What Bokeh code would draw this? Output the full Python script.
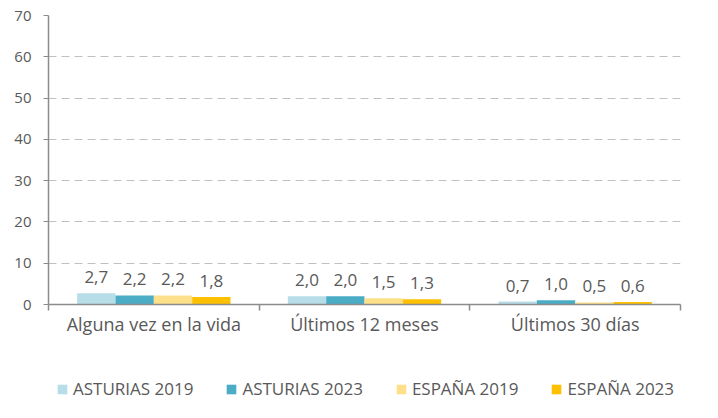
from bokeh.plotting import figure
from bokeh.models import ColumnDataSource, FixedTicker, Legend, LegendItem, Range1d
from bokeh.layouts import column
from bokeh.core.properties import value
from bokeh.embed import file_html
from bokeh.resources import INLINE

categories = ["Alguna vez en la vida", "Últimos 12 meses", "Últimos 30 días"]
series_names = ["ASTURIAS 2019", "ASTURIAS 2023", "ESPAÑA 2019", "ESPAÑA 2023"]
asturias_2019 = [2.7, 2.0, 0.7]
asturias_2023 = [2.2, 2.0, 1.0]
espana_2019 = [2.2, 1.5, 0.5]
espana_2023 = [1.8, 1.3, 0.6]
y_ticks = [0, 10, 20, 30, 40, 50, 60, 70]

series_values = [asturias_2019, asturias_2023, espana_2019, espana_2023]
colors = ["#B7DEE8", "#4BACC6", "#FFE08A", "#FFC000"]
offsets = [-0.273, -0.091, 0.091, 0.273]
bar_w = 0.182
FONT = "Open Sans"
TXT = "#595959"
AX = "#8C8C8C"

p = figure(width=702, height=350, output_backend="svg", toolbar_location=None,
           x_range=Range1d(0, 3), y_range=Range1d(0, 70),
           min_border_left=48, min_border_right=22, min_border_top=15, min_border_bottom=46)
p.outline_line_color = None
p.xgrid.grid_line_color = None
p.ygrid.grid_line_color = "#C0C0C0"
p.ygrid.grid_line_dash = "8 5"
p.ygrid.grid_line_width = 1
p.ygrid.ticker = FixedTicker(ticks=y_ticks[1:])

# separate strip below the chart that holds the legend
pl = figure(width=702, height=52, output_backend="svg", toolbar_location=None,
            x_range=Range1d(0, 3), y_range=Range1d(100, 101),
            min_border_left=0, min_border_right=0, min_border_top=0, min_border_bottom=0)
pl.axis.visible = False
pl.grid.visible = False
pl.outline_line_color = None

items = []
for i, (name, vals, col, off) in enumerate(zip(series_names, series_values, colors, offsets)):
    xs = [k + 0.5 + off for k in range(len(categories))]
    src = ColumnDataSource(dict(x=xs, top=vals, lab=[f"{v:.1f}".replace(".", ",") for v in vals]))
    p.vbar(x="x", top="top", width=bar_w, source=src, fill_color=col, line_color=None)
    p.text(x="x", y="top", text="lab", source=src, text_align="center", text_baseline="alphabetic",
           y_offset=-16, text_font=value(FONT), text_font_size="17px", text_color=TXT)
    rl = pl.vbar(x="x", top="top", width=bar_w, source=src, fill_color=col, line_color=None)
    items.append(LegendItem(label=name, renderers=[rl]))

# x axis
p.xaxis.ticker = FixedTicker(ticks=[0.5, 1.5, 2.5], minor_ticks=[0, 1, 2, 3])
p.xaxis.major_label_overrides = {0.5: categories[0], 1.5: categories[1], 2.5: categories[2]}
p.xaxis.major_tick_line_color = None
p.xaxis.major_tick_out = 0
p.xaxis.minor_tick_out = 6
p.xaxis.minor_tick_in = 0
p.xaxis.minor_tick_line_color = AX
p.xaxis.minor_tick_line_width = 1.5
p.xaxis.axis_line_color = AX
p.xaxis.axis_line_width = 1.5
p.xaxis.major_label_text_font = FONT
p.xaxis.major_label_text_font_size = "18px"
p.xaxis.major_label_text_color = TXT
p.xaxis.major_label_standoff = 1

# y axis
p.yaxis.ticker = FixedTicker(ticks=y_ticks)
p.yaxis.axis_line_color = AX
p.yaxis.axis_line_width = 1.5
p.yaxis.major_tick_out = 5
p.yaxis.major_tick_in = 0
p.yaxis.major_tick_line_color = AX
p.yaxis.minor_tick_line_color = None
p.yaxis.major_label_text_font = FONT
p.yaxis.major_label_text_font_size = "15px"
p.yaxis.major_label_text_color = TXT
p.yaxis.major_label_standoff = 12

legend = Legend(items=items, orientation="horizontal", location=(8, 2),
                label_text_font=FONT, label_text_font_size="17px", label_text_color=TXT,
                glyph_width=12, glyph_height=12, label_standoff=5, spacing=32,
                background_fill_alpha=0, border_line_color=None, padding=0, margin=0)
pl.add_layout(legend, "center")

layout = column(p, pl, spacing=0)
open("out.html", "w").write(file_html(layout, INLINE))
